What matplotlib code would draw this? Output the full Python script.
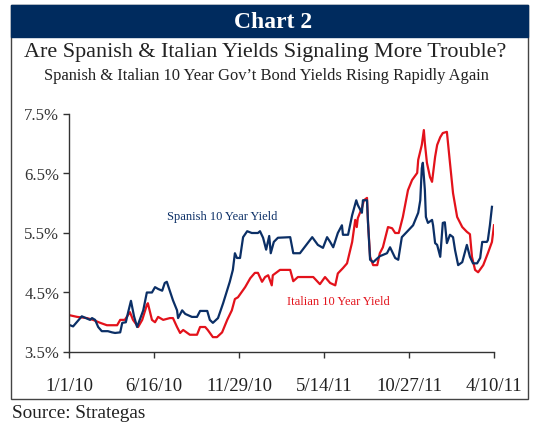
import matplotlib
matplotlib.use("Agg")
import matplotlib.pyplot as plt
from matplotlib.patches import Rectangle

# days since 1/1/10 and yield (%)
spain_days = [2, 8, 25, 33, 41, 45, 51, 57, 64, 76, 84, 90, 100, 104, 111, 115, 121, 127, 133,
              145, 152, 162, 168, 174, 182, 187, 191, 203, 211, 213, 221, 227, 240, 250, 256,
              270, 275, 281, 291, 301, 314, 320, 324, 328, 334, 340, 348, 357, 369, 373, 379,
              385, 391, 394, 400, 408, 432, 438, 451, 475, 486, 496, 504, 510, 516, 525, 533,
              535, 545, 553, 561, 564, 572, 574, 582, 584, 588, 594, 607, 621, 627, 637, 643,
              650, 660, 672, 682, 686, 689, 691, 695, 697, 701, 709, 711, 715, 719, 725, 730,
              734, 738, 744, 750, 754, 760, 768, 777, 783, 789, 797, 803, 807, 816, 818, 822, 826]
spain_yield = [3.95, 3.93, 4.10, 4.07, 4.04, 4.07, 4.04, 3.92, 3.85, 3.85, 3.83, 3.82, 3.83,
               3.99, 4.00, 4.15, 4.36, 4.10, 3.92, 4.20, 4.50, 4.50, 4.59, 4.56, 4.53, 4.66,
               4.68, 4.37, 4.20, 4.07, 4.20, 4.14, 4.09, 4.09, 4.19, 4.19, 4.04, 3.99, 4.07,
               4.32, 4.68, 4.88, 5.16, 5.08, 5.08, 5.43, 5.53, 5.50, 5.50, 5.53, 5.42, 5.22,
               5.45, 5.16, 5.35, 5.42, 5.43, 5.16, 5.16, 5.43, 5.30, 5.25, 5.43, 5.35, 5.26,
               5.50, 5.63, 5.47, 5.47, 5.80, 6.05, 5.97, 5.84, 6.05, 6.05, 5.67, 5.05, 5.01,
               5.11, 5.16, 5.26, 5.08, 5.05, 5.43, 5.52, 5.63, 5.84, 6.05, 6.59, 6.68, 6.22,
               5.77, 5.67, 5.72, 5.63, 5.33, 5.30, 5.10, 5.67, 5.68, 5.33, 5.47, 5.43, 5.21,
               4.96, 5.01, 5.30, 5.10, 4.99, 4.99, 5.08, 5.35, 5.35, 5.38, 5.63, 5.94]

italy_days = [0, 16, 35, 47, 61, 74, 94, 100, 109, 119, 125, 135, 143, 152, 154, 162, 168, 174,
              184, 197, 203, 211, 217, 223, 236, 250, 256, 266, 271, 281, 289, 299, 309, 318,
              324, 330, 344, 354, 363, 369, 377, 383, 389, 396, 398, 412, 432, 438, 447, 477,
              490, 500, 510, 520, 525, 535, 543, 553, 559, 562, 564, 572, 576, 582, 584, 588,
              594, 602, 607, 613, 623, 631, 637, 644, 652, 662, 670, 680, 682, 689, 693, 695,
              699, 705, 709, 715, 719, 725, 730, 738, 744, 750, 758, 768, 777, 783, 787, 793,
              799, 809, 818, 826, 830]
italy_yield = [4.12, 4.09, 4.07, 4.04, 3.99, 3.95, 3.95, 4.04, 4.04, 4.17, 4.04, 3.92, 4.04,
               4.29, 4.32, 4.04, 4.00, 4.09, 4.04, 4.07, 4.07, 3.92, 3.82, 3.87, 3.79, 3.79,
               3.92, 3.92, 3.87, 3.75, 3.75, 3.83, 4.04, 4.20, 4.39, 4.42, 4.59, 4.74, 4.83,
               4.83, 4.68, 4.76, 4.79, 4.62, 4.79, 4.88, 4.88, 4.69, 4.76, 4.76, 4.64, 4.76,
               4.66, 4.62, 4.82, 4.91, 4.99, 5.35, 5.72, 5.60, 5.75, 5.92, 6.05, 6.09, 5.67,
               5.10, 4.96, 4.96, 5.16, 5.26, 5.60, 5.58, 5.50, 5.50, 5.77, 6.22, 6.39, 6.51,
               6.73, 6.98, 7.23, 7.01, 6.68, 6.44, 6.36, 6.78, 6.98, 7.11, 7.18, 7.20, 6.68,
               6.17, 5.77, 5.60, 5.52, 5.48, 5.10, 4.88, 4.84, 4.96, 5.16, 5.35, 5.63]

tick_days = [0, 166, 332, 498, 664, 830]
tick_labels = ["1/1/10", "6/16/10", "11/29/10", "5/14/11", "10/27/11", "4/10/11"]
y_ticks = [3.5, 4.5, 5.5, 6.5, 7.5]

navy = "#0b2f66"
red = "#e3121b"
serif = "Liberation Serif"

W, H = 539, 423
fig = plt.figure(figsize=(W / 100, H / 100), dpi=100)

# outer frame and header band
fig.patches.append(Rectangle((11 / W, 1 - 399 / H), 517 / W, 394 / H, transform=fig.transFigure,
                             fill=False, edgecolor="#444444", lw=1.0))
fig.patches.append(Rectangle((11 / W, 1 - 37 / H), 517 / W, 32 / H, transform=fig.transFigure,
                             facecolor="#002b5e", edgecolor="#002b5e", lw=1.0))
fig.text(273 / W, 1 - 22 / H, "Chart 2", color="white", ha="center", va="center",
         family=serif, fontsize=17, weight="bold")
fig.text(265 / W, 1 - 52 / H, "Are Spanish & Italian Yields Signaling More Trouble?",
         ha="center", va="center", family=serif, fontsize=15.9, color="#222222")
fig.text(266 / W, 1 - 76 / H, "Spanish & Italian 10 Year Gov\u2019t Bond Yields Rising Rapidly Again",
         ha="center", va="center", family=serif, fontsize=11.9, color="#222222")
fig.text(12 / W, 1 - 413 / H, "Source: Strategas", ha="left", va="center",
         family=serif, fontsize=13.8, color="#222222")

ax = fig.add_axes([69 / W, 1 - 352 / H, 425 / W, 238 / H])
ax.plot(italy_days, italy_yield, color=red, lw=1.6)
ax.plot(spain_days, spain_yield, color=navy, lw=1.6)

ax.set_xlim(0, 830)
ax.set_ylim(3.5, 7.5)
ax.set_xticks(tick_days)
ax.set_xticklabels(tick_labels)
ax.set_yticks(y_ticks)
ax.set_yticklabels([f"{v}%" for v in y_ticks])

for side in ["top", "right"]:
    ax.spines[side].set_visible(False)
for side in ["left", "bottom"]:
    ax.spines[side].set_color("#333333")
    ax.spines[side].set_linewidth(1.0)
ax.tick_params(axis="x", direction="out", length=4, width=1, color="#333333", pad=15,
               labelsize=13.5, labelcolor="#222222")
ax.tick_params(axis="y", direction="out", length=4, width=1, color="#333333", pad=3,
               labelsize=12, labelcolor="#333333")
for label in ax.get_xticklabels() + ax.get_yticklabels():
    label.set_family(serif)

ax.text(191, 5.77, "Spanish 10 Year Yield", color=navy, family=serif, fontsize=9,
        ha="left", va="center")
ax.text(426, 4.34, "Italian 10 Year Yield", color=red, family=serif, fontsize=9,
        ha="left", va="center")

fig.savefig("out.png", dpi=100)
